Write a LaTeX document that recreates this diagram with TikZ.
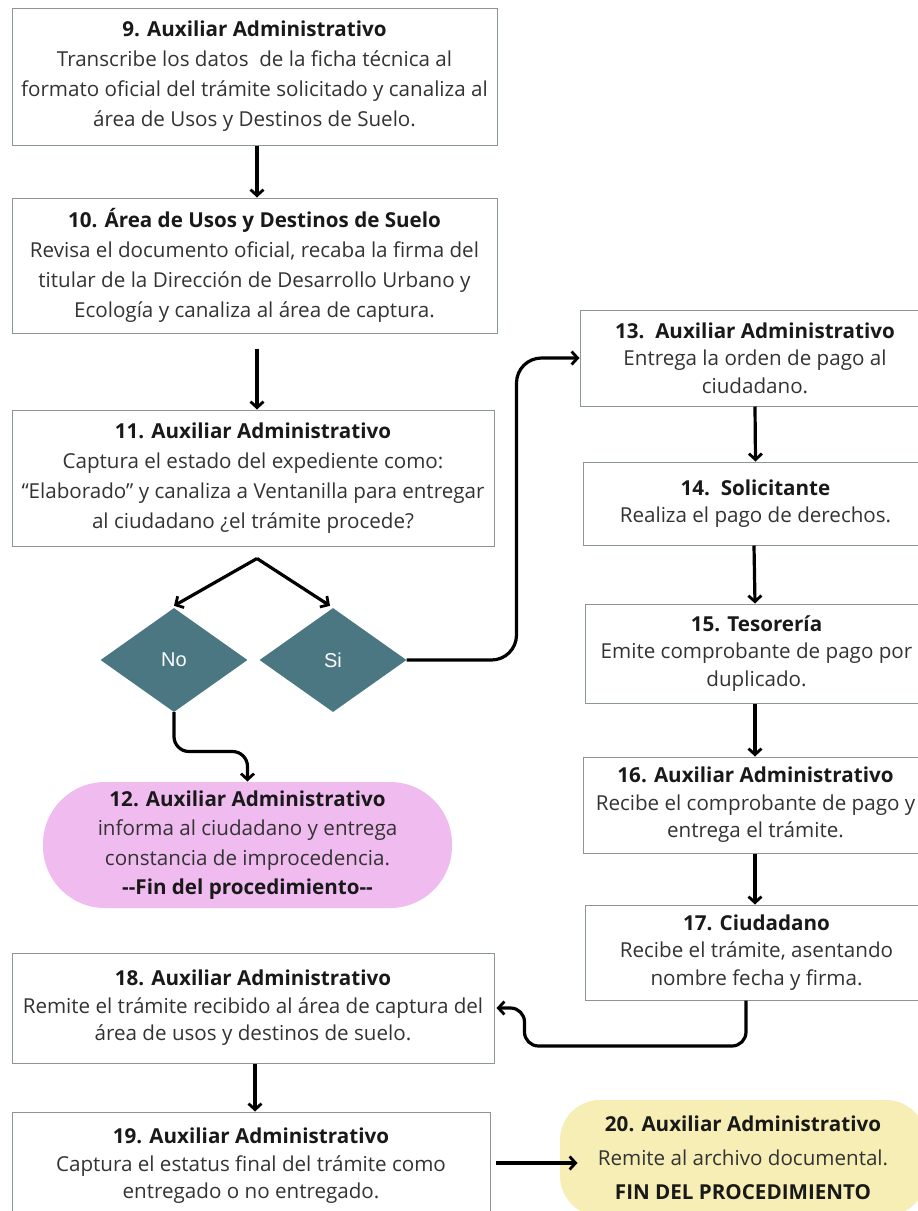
\documentclass[tikz,border=0pt]{standalone}
\usepackage{fontspec}
\setmainfont{Open Sans}
\newfontfamily\arialf{Liberation Sans}
\usetikzlibrary{shapes.geometric,arrows.meta}
\definecolor{bordc}{HTML}{8C9598}
\definecolor{txtc}{HTML}{333333}
\definecolor{diac}{HTML}{4A7781}
\definecolor{pinkc}{HTML}{F0BCF0}
\definecolor{yelc}{HTML}{F6EEB4}
\tikzset{
  box/.style={draw=bordc, line width=1pt, fill=white, text=txtc, align=center, inner sep=0pt,
    font=\fontsize{20.6}{30}\selectfont},
  tight/.style={font=\fontsize{20.6}{27.5}\selectfont},
  dia/.style={diamond, fill=diac, inner sep=0pt, minimum width=147pt, minimum height=104pt,
    text=white, font=\arialf\fontsize{20}{22}\selectfont},
  arr/.style={draw=black, line width=3.2pt, -{Straight Barb[length=6pt,width=13pt,line width=2.8pt]}},
}
\newcommand{\ttl}[1]{{\bfseries\color{black!90}#1}}
\begin{document}
\begin{tikzpicture}[x=1pt,y=-1pt]
\useasboundingbox (0,0) rectangle (918,1211);
\node[box, minimum width=485pt, minimum height=137pt] (b9) at (254.5,76.5)
 {\ttl{9. Auxiliar Administrativo}\\Transcribe los datos\ \ de la ficha técnica al\\formato oficial del trámite solicitado y canaliza al\\área de Usos y Destinos de Suelo.};
\node[box, minimum width=485pt, minimum height=135pt] (b10) at (254.5,265.5)
 {\ttl{10. Área de Usos y Destinos de Suelo}\\Revisa el documento oficial, recaba la firma del\\titular de la Dirección de Desarrollo Urbano y\\Ecología y canaliza al área de captura.};
\node[box, minimum width=482pt, minimum height=136pt] (b11) at (253,478)
 {\ttl{11. Auxiliar Administrativo}\\Captura el estado del expediente como:\\“Elaborado” y canaliza a Ventanilla para entregar\\al ciudadano ¿el trámite procede?};
\node[dia] (no) at (174,660) {No};
\node[dia] (si) at (333,660) {Si};
\node[box, draw=none, fill=pinkc, rounded corners=62pt, minimum width=409pt, minimum height=126pt,
  font=\fontsize{20.6}{29.3}\selectfont] (o12) at (247.5,845)
 {\ttl{12. Auxiliar Administrativo}\\informa al ciudadano y entrega\\constancia de improcedencia.\\\ttl{-{}-Fin del procedimiento-{}-}};
\node[box, tight, minimum width=350pt, minimum height=96pt] (b13) at (755,358)
 {\ttl{13.\ \ Auxiliar Administrativo}\\Entrega la orden de pago al\\ciudadano.};
\node[box, tight, minimum width=345pt, minimum height=83pt] (b14) at (755.5,503.5)
 {\ttl{14.\ \ Solicitante}\\Realiza el pago de derechos.};
\node[box, tight, minimum width=343pt, minimum height=99pt] (b15) at (756.5,653.5)
 {\ttl{15. Tesorería}\\Emite comprobante de pago por\\duplicado.};
\node[box, tight, minimum width=345pt, minimum height=96pt] (b16) at (755.5,805)
 {\ttl{16. Auxiliar Administrativo}\\Recibe el comprobante de pago y\\entrega el trámite.};
\node[box, tight, minimum width=343pt, minimum height=95pt] (b17) at (756.5,952.5)
 {\ttl{17. Ciudadano}\\Recibe el trámite, asentando\\nombre fecha y firma.};
\node[box, tight, minimum width=482pt, minimum height=110pt] (b18) at (253,1008)
 {\ttl{18. Auxiliar Administrativo}\\Remite el trámite recibido al área de captura del\\área de usos y destinos de suelo.};
\node[box, tight, minimum width=478pt, minimum height=108pt] (b19) at (251,1166)
 {\ttl{19. Auxiliar Administrativo}\\Captura el estatus final del trámite como\\entregado o no entregado.};
\node[box, draw=none, fill=yelc, rounded corners=40pt, minimum width=366pt, minimum height=116pt,
  font=\fontsize{20.6}{34}\selectfont] (o20) at (743,1158)
 {\ttl{20. Auxiliar Administrativo}\\Remite al archivo documental.\\\ttl{FIN DEL PROCEDIMIENTO}};
% connectors
\draw[arr] ([xshift=2.5]b9.south) -- ([xshift=2.5]b10.north);
\draw[arr, shorten <=15pt] ([xshift=2.5]b10.south) -- ([xshift=4]b11.north);
\coordinate (split) at ([xshift=4,yshift=-12]b11.south);
\draw[arr] (split) -- ([yshift=2]no.north);
\draw[arr] (split) -- ([xshift=-3,yshift=2]si.north);
\draw[arr, rounded corners=25pt] (si.east) -| ([xshift=-63]b13.west) -- (b13.west);
\draw[arr, rounded corners=15pt] (no.south) |- ([yshift=30]o12.north) -- (o12.north);
\draw[arr] (b13.south) -- (b14.north);
\draw[arr] ([xshift=-1.5]b14.south) -- ([xshift=-1.5]b15.north);
\draw[arr] ([xshift=-1.5]b15.south) -- ([xshift=-0.5]b16.north);
\draw[arr] ([xshift=-0.5]b16.south) -- ([xshift=-1.5]b17.north);
\draw[arr, rounded corners=14pt] ([xshift=-10.5]b17.south) |- ([xshift=30,yshift=-38]b18.east) |- ([xshift=2]b18.east);
\draw[arr] ([xshift=2]b18.south) -- ([xshift=4]b19.north);
\draw[arr] ([xshift=5,yshift=3]b19.east) -- ([xshift=18,yshift=-5]o20.west);
\end{tikzpicture}
\end{document}
